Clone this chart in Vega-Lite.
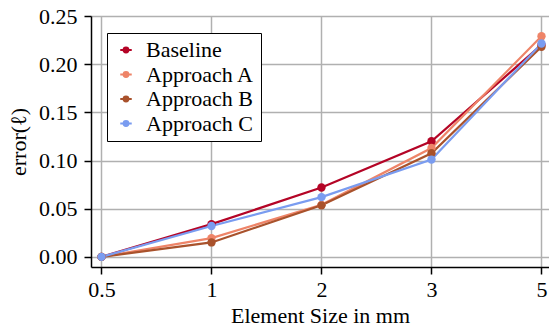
{
  "$schema": "https://vega.github.io/schema/vega-lite/v6.json",
  "autosize": {"type": "none"},
  "padding": {"left": 91, "top": 16, "right": 0, "bottom": 64},
  "width": 458,
  "height": 251,
  "background": "white",
  "config": {
    "view": {"stroke": null},
    "font": "Liberation Serif",
    "axis": {
      "labelFont": "Liberation Serif",
      "titleFont": "Liberation Serif",
      "labelFontSize": 22,
      "titleFontSize": 22,
      "titleFontWeight": "normal",
      "labelColor": "black",
      "titleColor": "black",
      "domainColor": "black",
      "domainWidth": 1.5,
      "tickColor": "black",
      "tickWidth": 1.5,
      "tickSize": 7,
      "grid": true,
      "gridColor": "#b0b0b0",
      "gridWidth": 1.5
    },
    "legend": {
      "labelFont": "Liberation Serif",
      "labelFontSize": 22,
      "labelColor": "black"
    }
  },
  "data": {
    "values": [
      {"size": "0.5", "method": "Baseline", "error": 0.0},
      {"size": "1", "method": "Baseline", "error": 0.034},
      {"size": "2", "method": "Baseline", "error": 0.072},
      {"size": "3", "method": "Baseline", "error": 0.120},
      {"size": "5", "method": "Baseline", "error": 0.220},
      {"size": "0.5", "method": "Approach A", "error": 0.0},
      {"size": "1", "method": "Approach A", "error": 0.0195},
      {"size": "2", "method": "Approach A", "error": 0.054},
      {"size": "3", "method": "Approach A", "error": 0.113},
      {"size": "5", "method": "Approach A", "error": 0.229},
      {"size": "0.5", "method": "Approach B", "error": 0.0},
      {"size": "1", "method": "Approach B", "error": 0.015},
      {"size": "2", "method": "Approach B", "error": 0.0535},
      {"size": "3", "method": "Approach B", "error": 0.1075},
      {"size": "5", "method": "Approach B", "error": 0.218},
      {"size": "0.5", "method": "Approach C", "error": 0.0},
      {"size": "1", "method": "Approach C", "error": 0.032},
      {"size": "2", "method": "Approach C", "error": 0.062},
      {"size": "3", "method": "Approach C", "error": 0.101},
      {"size": "5", "method": "Approach C", "error": 0.2215}
    ]
  },
  "encoding": {
    "x": {
      "field": "size",
      "type": "ordinal",
      "sort": ["0.5", "1", "2", "3", "5"],
      "scale": {"type": "point", "domain": ["0.5", "1", "2", "3", "5"], "padding": 0.0818, "align": 0.583},
      "axis": {"title": "Element Size in mm", "labelAngle": 0, "labelPadding": 5, "titlePadding": 5}
    },
    "y": {
      "field": "error",
      "type": "quantitative",
      "scale": {"domain": [-0.0105, 0.25], "nice": false, "zero": false},
      "axis": {"title": "error(ℓ)", "values": [0, 0.05, 0.1, 0.15, 0.2, 0.25], "format": ".2f", "labelPadding": 7, "titlePadding": 8}
    }
  },
  "layer": [
    {
      "mark": {"type": "line", "strokeWidth": 2.2},
      "encoding": {
        "stroke": {
          "field": "method",
          "type": "nominal",
          "sort": ["Baseline", "Approach A", "Approach B", "Approach C"],
          "scale": {"domain": ["Baseline", "Approach A", "Approach B", "Approach C"], "range": ["#b40426", "#ee8468", "#a9522c", "#7a9cf0"]},
          "legend": {
            "title": null,
            "orient": "none",
            "legendX": 16,
            "legendY": 17,
            "padding": 6,
            "strokeColor": "black",
            "fillColor": "white",
            "cornerRadius": 0,
            "rowPadding": 2.5,
            "symbolType": "M -1 0 L 1 0 M 0.4 0 A 0.4 0.4 0 1 1 -0.4 0 A 0.4 0.4 0 1 1 0.4 0 Z",
            "symbolSize": 132,
            "symbolStrokeWidth": 2.2,
            "symbolOffset": 2,
            "labelOffset": 9
          }
        },
        "detail": {"field": "method"}
      }
    },
    {
      "mark": {"type": "point", "filled": true, "size": 70, "opacity": 1},
      "encoding": {
        "fill": {
          "field": "method",
          "type": "nominal",
          "sort": ["Baseline", "Approach A", "Approach B", "Approach C"],
          "scale": {"domain": ["Baseline", "Approach A", "Approach B", "Approach C"], "range": ["#b40426", "#ee8468", "#a9522c", "#7a9cf0"]},
          "legend": {
            "title": null,
            "orient": "none",
            "legendX": 16,
            "legendY": 17,
            "padding": 6,
            "strokeColor": "black",
            "fillColor": "white",
            "cornerRadius": 0,
            "rowPadding": 2.5,
            "symbolType": "M -1 0 L 1 0 M 0.4 0 A 0.4 0.4 0 1 1 -0.4 0 A 0.4 0.4 0 1 1 0.4 0 Z",
            "symbolSize": 132,
            "symbolStrokeWidth": 2.2,
            "symbolOffset": 2,
            "labelOffset": 9
          }
        }
      }
    }
  ]
}
